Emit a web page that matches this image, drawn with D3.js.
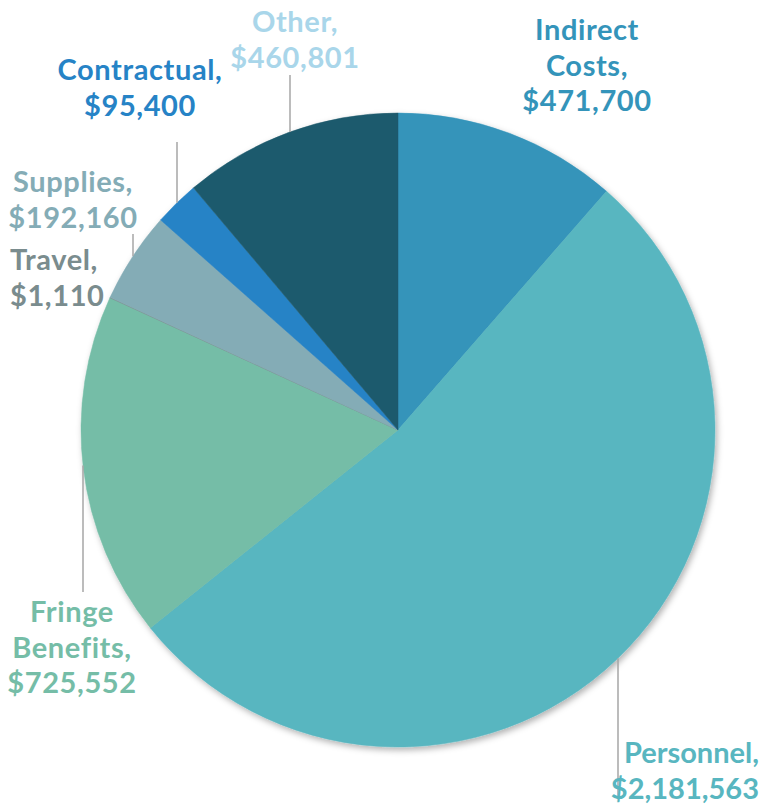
<!DOCTYPE html>
<html>
<head>
<meta charset="utf-8">
<script src="https://cdn.jsdelivr.net/npm/d3@7"></script>
<style>
  html, body { margin: 0; padding: 0; background: #fff; }
  svg { display: block; }
  .label { font-family: Lato, "Open Sans", sans-serif; font-weight: 700; font-size: 29px; letter-spacing: 0.6px; }
</style>
</head>
<body>
<svg id="chart"></svg>
<script>
// Budget categories, clockwise from 12 o'clock
var categories = ["Indirect Costs", "Personnel", "Fringe Benefits", "Travel", "Supplies", "Contractual", "Other"];
var amounts = [471700, 2181563, 725552, 1110, 192160, 95400, 460801];
var labelLines = [["Indirect", "Costs,"], ["Personnel,"], ["Fringe", "Benefits,"], ["Travel,"], ["Supplies,"], ["Contractual,"], ["Other,"]];

var sliceColors = ["#3494ba", "#58b6c0", "#75bda7", "#7a8c8e", "#84acb6", "#2683c6", "#1f5a6d"];
var textColors = ["#3494ba", "#58b6c0", "#75bda7", "#7a8c8e", "#84acb6", "#2683c6", "#a9d6ea"];

// where each label sits (anchor x, first baseline y) and its leader line (null = none)
var labelPos = [
  { x: 587, y: 40, anchor: "middle", line: null },
  { x: 759, y: 763, anchor: "end", spacing: 0, line: { x: 618, y2: 797, below: true } },
  { x: 72, y: 622, anchor: "middle", line: { x: 83, y2: 592, below: true } },
  { x: 10, y: 270, anchor: "start", line: null },
  { x: 73, y: 192, anchor: "middle", line: { x: 133, y2: 234 } },
  { x: 140, y: 80, anchor: "middle", line: { x: 177, y2: 142 } },
  { x: 295, y: 32, anchor: "middle", line: { x: 290, y2: 75 } }
];

var width = 762, height = 806;
var cx = 398, cy = 430, radius = 317;
var lineHeight = 35.5;

var fmt = d3.format("$,");

var svg = d3.select("#chart").attr("width", width).attr("height", height);

var defs = svg.append("defs");
var shadow = defs.append("filter").attr("id", "shadow")
  .attr("x", "-10%").attr("y", "-10%").attr("width", "120%").attr("height", "120%");
shadow.append("feDropShadow")
  .attr("dx", 2).attr("dy", 3).attr("stdDeviation", 3)
  .attr("flood-color", "#000").attr("flood-opacity", 0.3);

var data = categories.map(function (c, i) {
  return { name: c, value: amounts[i], i: i };
});

var pie = d3.pie().sort(null).value(function (d) { return d.value; });
var arc = d3.arc().innerRadius(0).outerRadius(radius);
var arcs = pie(data);

var pieGroup = svg.append("g")
  .attr("transform", "translate(" + cx + "," + cy + ")")
  .attr("filter", "url(#shadow)");

pieGroup.selectAll("path")
  .data(arcs)
  .enter()
  .append("path")
  .attr("d", arc)
  .attr("fill", function (d) { return sliceColors[d.data.i]; })
  .attr("stroke", function (d) { return sliceColors[d.data.i]; })
  .attr("stroke-width", 0.5);

// leader lines: vertical, starting on the pie edge
labelPos.forEach(function (p) {
  if (!p.line) return;
  var dx = p.line.x - cx;
  var dy = Math.sqrt(radius * radius - dx * dx);
  var y1 = p.line.below ? cy + dy : cy - dy;
  svg.append("line")
    .attr("x1", p.line.x).attr("x2", p.line.x)
    .attr("y1", y1).attr("y2", p.line.y2)
    .attr("stroke", "#a6a6a6")
    .attr("stroke-width", 1.5);
});

// labels
data.forEach(function (d) {
  var p = labelPos[d.i];
  var lines = labelLines[d.i].concat([fmt(d.value)]);
  var text = svg.append("text")
    .attr("class", "label")
    .attr("fill", textColors[d.i])
    .attr("text-anchor", p.anchor);
  if (p.spacing !== undefined) text.style("letter-spacing", p.spacing + "px");
  lines.forEach(function (l, k) {
    text.append("tspan")
      .attr("x", p.x)
      .attr("y", p.y + k * lineHeight)
      .text(l);
  });
});
</script>
</body>
</html>
